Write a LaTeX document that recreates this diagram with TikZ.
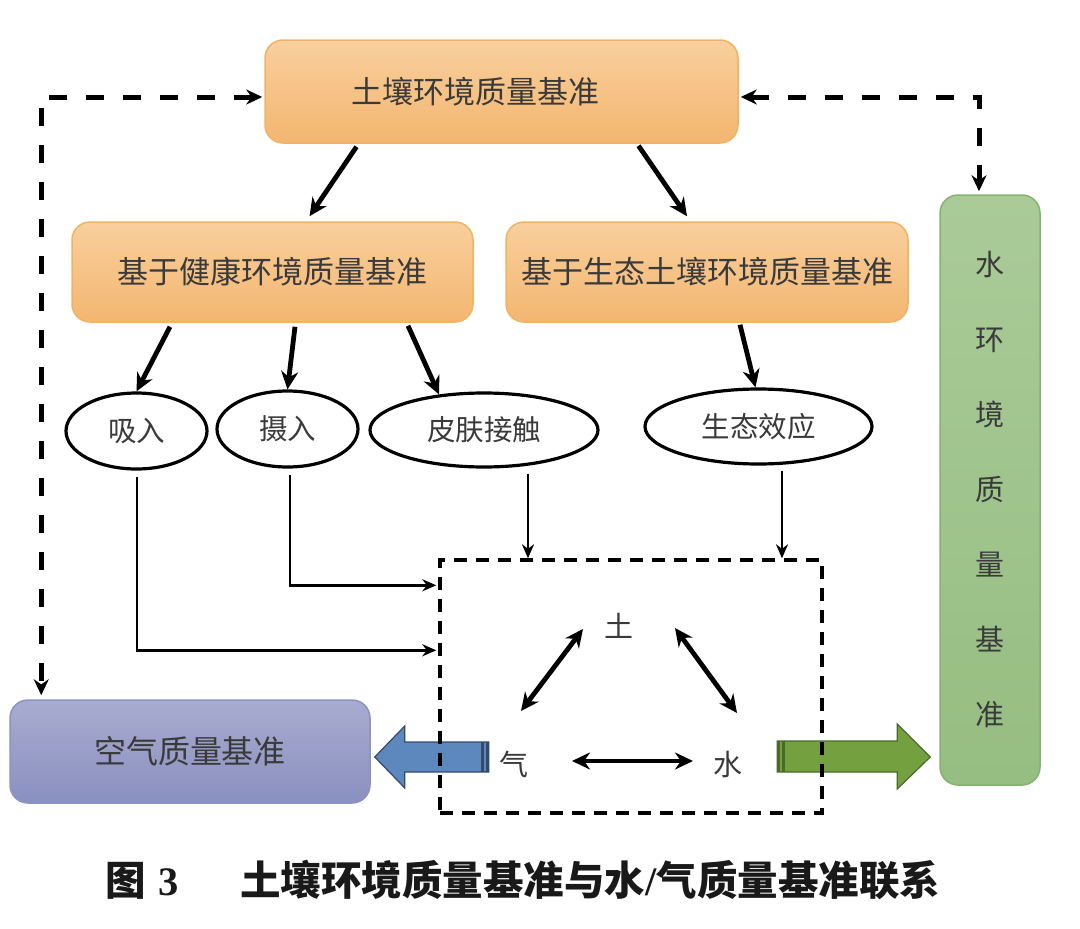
\documentclass[tikz,border=0pt]{standalone}
\usepackage{fontspec}
\setmainfont{Liberation Serif}
\newfontfamily\cjk{Noto Sans CJK SC}
\usetikzlibrary{positioning,calc,arrows.meta,shapes.geometric}
\tikzset{>={Stealth[length=18pt,width=17pt]}}

\definecolor{critlight}{HTML}{F9CF9D}
\definecolor{critdark}{HTML}{F3B670}
\definecolor{critline}{HTML}{F0B366}
\definecolor{waterlight}{HTML}{AACB98}
\definecolor{waterdark}{HTML}{96BD82}
\definecolor{waterline}{HTML}{86B272}
\definecolor{airlight}{HTML}{A9ACD1}
\definecolor{airdark}{HTML}{8A90BF}
\definecolor{airline}{HTML}{8C92C2}
\definecolor{fatblue}{HTML}{5D88BE}
\definecolor{fatblueline}{HTML}{34496E}
\definecolor{fatgreen}{HTML}{74A03F}
\definecolor{fatgreenline}{HTML}{4A6A2A}
\definecolor{inkgray}{HTML}{3A3A3A}

\tikzset{
  critbox/.style={draw=critline,line width=1.5pt,rounded corners=18pt,
    top color=critlight,bottom color=critdark,text=inkgray,
    font=\cjk\fontsize{31}{37}\selectfont},
  route/.style={draw,ellipse,line width=3.2pt,fill=white,inner sep=0pt,
    text=inkgray,font=\cjk\fontsize{28.5}{34}\selectfont},
  phase/.style={text=inkgray,font=\cjk\fontsize{29}{35}\selectfont},
  heavy/.style={line width=4.8pt},
  feed/.style={line width=2.8pt,-{Stealth[length=14pt,width=12pt]}},
  linkdash/.style={line width=5pt,dash pattern=on 18pt off 19pt,
    {Stealth[length=16pt,width=15pt]}-{Stealth[length=16pt,width=15pt]}},
  tri/.style={line width=4.8pt,
    {Stealth[length=18pt,width=17pt]}-{Stealth[length=18pt,width=17pt]}},
  mixbox/.style={draw,line width=3.4pt,dash pattern=on 13pt off 9pt},
}

\begin{document}
\begin{tikzpicture}[x=1pt,y=-1pt]
\useasboundingbox (0,0) rectangle (1080,929);

\node[critbox,minimum width=473,minimum height=103] (soil) at (501.5,91.5) {\hspace*{-52pt}土壤环境质量基准};
\node[critbox,minimum width=401,minimum height=100] (health) at (272.5,272) {基于健康环境质量基准};
\node[critbox,minimum width=402,minimum height=100] (eco) at (707,272) {基于生态土壤环境质量基准};
\node[draw=waterline,line width=1.5pt,rounded corners=18pt,top color=waterlight,bottom color=waterdark,
  minimum width=100,minimum height=590,align=center,text=inkgray,
  font=\cjk\fontsize{29}{75}\selectfont] (water) at (990,490) {水\\环\\境\\质\\量\\基\\准};
\node[draw=airline,line width=1.5pt,rounded corners=18pt,top color=airlight,bottom color=airdark,
  minimum width=360,minimum height=103,text=inkgray,
  font=\cjk\fontsize{32}{38}\selectfont] (air) at (190,751.5) {空气质量基准};

\node[route,minimum width=141,minimum height=76] (inhale) at (136.5,431) {吸入};
\node[route,minimum width=141,minimum height=76] (ingest) at (287.5,429) {摄入};
\node[route,minimum width=228,minimum height=74] (skin) at (484,430) {皮肤接触};
\node[route,minimum width=227,minimum height=75] (effect) at (758.5,426.5) {生态效应};

\node[phase] (tu) at (619,626) {土};
\node[phase] (qi) at (514,764) {气};
\node[phase] (shui) at (728,765) {水};

\coordinate (airtip) at ($(air.east)+(4,5.5)$);
\filldraw[fill=fatblue,draw=fatblueline,line width=1.2pt] (airtip) -- ++(30,-31) -- ++(0,16)
  -- ++(84,0) -- ++(0,30) -- ++(-84,0) -- ++(0,16) -- cycle;
\fill[fatblueline] ($(airtip)+(106,-15)$) rectangle ++(3,30);
\fill[fatblueline] ($(airtip)+(111,-15)$) rectangle ++(3,30);

\coordinate (watertip) at ($(water.west)+(-9,267)$);
\filldraw[fill=fatgreen,draw=fatgreenline,line width=1.2pt] (watertip) -- ++(-33,-33) -- ++(0,17)
  -- ++(-120,0) -- ++(0,31) -- ++(120,0) -- ++(0,17) -- cycle;
\fill[fatgreenline] ($(watertip)+(-153,-16)$) rectangle ++(2.5,31);
\fill[fatgreenline] ($(watertip)+(-148,-16)$) rectangle ++(2.5,31);

\node[mixbox,minimum width=382,minimum height=253] (mix) at (631,686.5) {};

\draw[heavy,->] ($(soil.south)+(-145,3)$) -- ($(health.north)+(37,-5)$);
\draw[heavy,->] ($(soil.south)+(137,2)$) -- ($(eco.north)+(-20,-5)$);
\draw[heavy,->] ($(health.south)+(-102.5,4)$) -- (inhale.north);
\draw[heavy,->] ($(health.south)+(22.5,4)$) -- (ingest.north);
\draw[heavy,->] ($(health.south)+(135.5,3)$) -- ($(skin.north)+(-45,3)$);
\draw[heavy,->] ($(eco.south)+(33,2)$) -- ($(effect.north)+(-3,0)$);

\coordinate (inhout) at ($(inhale.south)+(0.5,6)$);
\coordinate (inhin) at ($(mix.north west)+(-2,92)$);
\draw[feed] (inhout) |- (inhin);
\coordinate (ingout) at ($(ingest.south)+(2.5,6)$);
\coordinate (ingin) at ($(mix.north west)+(-2,27)$);
\draw[feed] (ingout) |- (ingin);
\coordinate (skinout) at ($(skin.south)+(44,5)$);
\draw[feed] (skinout) -- (skinout |- mix.north);
\coordinate (effout) at ($(effect.south)+(23.5,5)$);
\draw[feed] (effout) -- (effout |- mix.north);

\draw[tri] ($(qi)+(58,-3)$) -- ($(shui)+(-35,-4)$);
\draw[tri] ($(qi)+(7,-53)$) -- ($(tu)+(-36,3)$);
\draw[tri] ($(tu)+(56,2)$) -- ($(shui)+(9,-52)$);

\draw[linkdash] ($(soil.west)+(-2,5.5)$) -| ($(air.north west)+(32,-4)$);
\draw[linkdash] ($(soil.east)+(2,5.5)$) -| ($(water.north)+(-11,-3)$);

\node[font=\bfseries\fontsize{40.5}{48}\selectfont,text=black!90] (caption) at (523,880)
  {{\cjk 图}\hspace{12pt}3\hspace{62pt}{\cjk 土壤环境质量基准与水}/{\cjk 气质量基准联系}};
\end{tikzpicture}
\end{document}
